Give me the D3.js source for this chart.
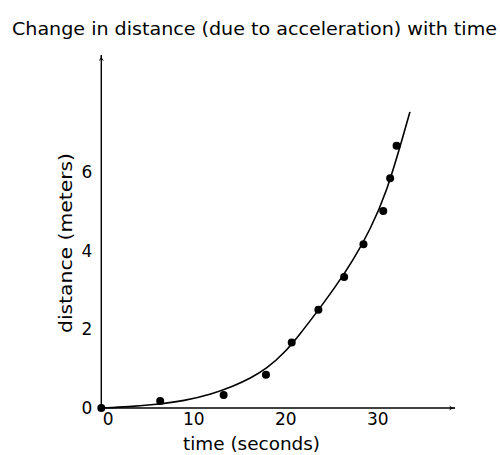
<!DOCTYPE html>
<html>
<head>
<meta charset="utf-8">
<script src="https://cdn.jsdelivr.net/npm/d3@7"></script>
<style>
  html, body { margin: 0; padding: 0; background: #fff; }
  svg { display: block; }
  text { font-family: "DejaVu Sans", sans-serif; fill: #000; }
</style>
</head>
<body>
<div id="chart"></div>
<script>
// ---- data ----
const titleText = "Change in distance (due to acceleration) with time";
const xLabelText = "time (seconds)";
const yLabelText = "distance (meters)";

const xTicks = [0, 10, 20, 30];
const yTicks = [0, 2, 4, 6];

// measured points
const pointTime = [0, 6.4, 13.3, 17.9, 20.7, 23.6, 26.4, 28.5, 30.65, 31.4, 32.1];
const pointDist = [0, 0.18, 0.33, 0.84, 1.66, 2.49, 3.32, 4.15, 4.99, 5.82, 6.64];

// fitted curve
const curveTime = [0, 3, 6, 9, 12, 14.35, 16.2, 18, 19.8, 21.6, 23.5, 25.4, 27.4, 29.2, 31.0, 32.8, 33.55];
const curveDist = [0, 0.03, 0.09, 0.18, 0.35, 0.55, 0.75, 1.0, 1.37, 1.87, 2.45, 3.05, 3.75, 4.5, 5.45, 6.88, 7.5];

// ---- layout ----
const W = 500, H = 455;
const svg = d3.select("#chart").append("svg").attr("width", W).attr("height", H);

const x = d3.scaleLinear().domain([0, 38.45]).range([101.3, 455]);
const y = d3.scaleLinear().domain([0, 8.94]).range([408, 55]);

// arrow marker
const defs = svg.append("defs");
defs.append("marker")
  .attr("id", "arrow")
  .attr("viewBox", "0 0 10 10")
  .attr("refX", 9).attr("refY", 5)
  .attr("markerWidth", 7).attr("markerHeight", 7)
  .attr("markerUnits", "userSpaceOnUse")
  .attr("orient", "auto")
  .append("path")
  .attr("d", "M0,1 Q5,5 10,5 Q5,5 0,9 L3,5 Z")
  .attr("fill", "#000");

// title
svg.append("text")
  .attr("x", 254.5).attr("y", 35)
  .attr("text-anchor", "middle")
  .attr("font-size", 18)
  .attr("textLength", 485)
  .attr("lengthAdjust", "spacingAndGlyphs")
  .text(titleText);

// axes lines with arrows
svg.append("line")
  .attr("x1", x(0)).attr("y1", y(0))
  .attr("x2", x.range()[1]).attr("y2", y(0))
  .attr("stroke", "#000").attr("stroke-width", 1.4)
  .attr("marker-end", "url(#arrow)");
svg.append("line")
  .attr("x1", x(0)).attr("y1", y(0))
  .attr("x2", x(0)).attr("y2", y.range()[1])
  .attr("stroke", "#000").attr("stroke-width", 1.4)
  .attr("marker-end", "url(#arrow)");

// tick labels via d3 axes
const xAxis = svg.append("g")
  .attr("transform", `translate(0,${y(0)})`)
  .call(d3.axisBottom(x).tickValues(xTicks).tickSize(0).tickPadding(5).tickFormat(d3.format("d")));
xAxis.select(".domain").remove();
xAxis.selectAll("text")
  .attr("font-family", "DejaVu Sans, sans-serif")
  .attr("font-size", 17)
  .attr("fill", "#000")
  .attr("dx", d => d === 0 ? 6.4 : 0);

const yAxis = svg.append("g")
  .attr("transform", `translate(${x(0)},0)`)
  .call(d3.axisLeft(y).tickValues(yTicks).tickSize(0).tickPadding(9).tickFormat(d3.format("d")));
yAxis.select(".domain").remove();
yAxis.selectAll("text")
  .attr("font-family", "DejaVu Sans, sans-serif")
  .attr("font-size", 17)
  .attr("fill", "#000")
  .attr("dy", "0.35em");

// axis labels
svg.append("text")
  .attr("x", 251.5).attr("y", 450)
  .attr("text-anchor", "middle")
  .attr("font-size", 18)
  .attr("textLength", 137)
  .attr("lengthAdjust", "spacingAndGlyphs")
  .text(xLabelText);
svg.append("text")
  .attr("transform", "translate(72,243) rotate(-90)")
  .attr("text-anchor", "middle")
  .attr("font-size", 18)
  .attr("textLength", 180)
  .attr("lengthAdjust", "spacingAndGlyphs")
  .text(yLabelText);

// fitted curve
const curveData = curveTime.map((t, i) => ({ t, d: curveDist[i] }));
svg.append("path")
  .datum(curveData)
  .attr("fill", "none")
  .attr("stroke", "#000")
  .attr("stroke-width", 1.6)
  .attr("d", d3.line().x(p => x(p.t)).y(p => y(p.d)).curve(d3.curveBasis));

// points
const pts = pointTime.map((t, i) => ({ t, d: pointDist[i] }));
svg.append("g").selectAll("circle")
  .data(pts)
  .join("circle")
  .attr("cx", p => x(p.t))
  .attr("cy", p => y(p.d))
  .attr("r", 4)
  .attr("fill", "#000");
</script>
</body>
</html>
